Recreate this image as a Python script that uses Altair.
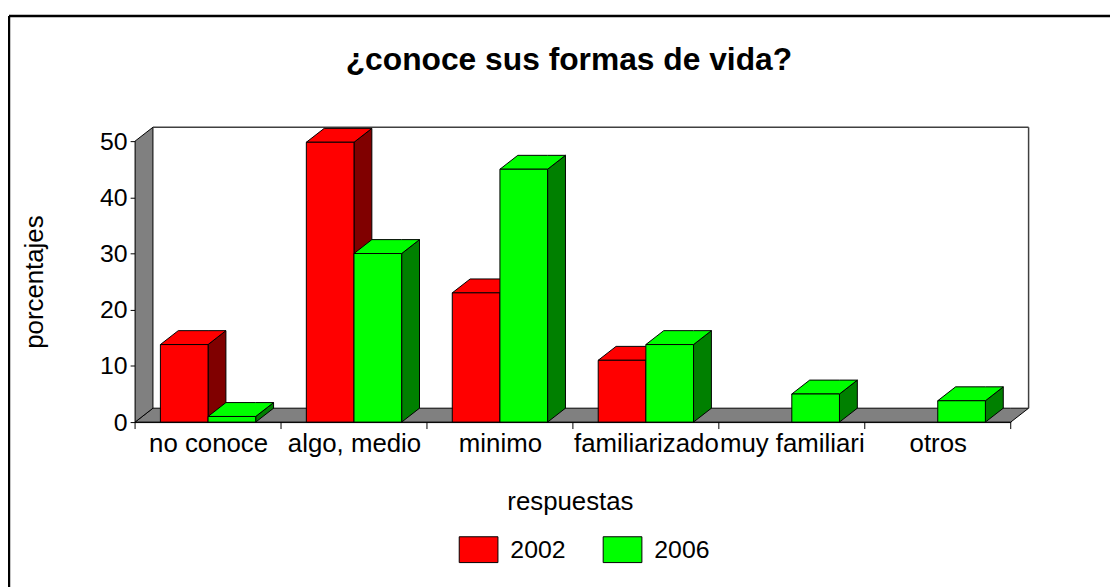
import json
import altair as alt
import pandas as pd

# ---------------- data ----------------
title_text = "¿conoce sus formas de vida?"
categories = ["no conoce", "algo, medio", "minimo", "familiarizado", "muy familiari", "otros"]
series = ["2002", "2006"]
values_2002 = [13.8, 49.8, 23.0, 11.0, 0.0, 0.0]
values_2006 = [1.0, 30.0, 45.0, 13.8, 5.0, 3.8]
y_ticks = [0, 10, 20, 30, 40, 50]
front_colors = ["#ff0000", "#00ff00"]
side_colors = ["#800000", "#008000"]

# ---------------- geometry (layout constants) ----------------
W, H = 882, 283
YMAX = 50
n = len(categories)
px_x = W / n
px_y = H / YMAX
DX = 18 / px_x          # depth offset in x units
DY = 14 / px_y          # depth offset in y units
BW = 48 / px_x          # bar width in x units
GAP = (px_x - 2 * 48) / 2 / px_x
FONT = "Liberation Sans"

fronts, sides, tops = [], [], []
bar_id = 0
for i, cat in enumerate(categories):
    for s, vals in enumerate([values_2002, values_2006]):
        v = vals[i]
        if v <= 0:
            continue
        a = i + GAP + s * BW
        fronts.append({"x": a, "x2": a + BW, "lo": 0.0, "hi": v, "series": series[s], "cat": cat})
        for xx, lo, hi in [(a + BW, 0.0, v), (a + BW + DX, DY, v + DY)]:
            sides.append({"x": xx, "lo": lo, "hi": hi, "id": bar_id, "c": side_colors[s]})
        for xx, lo, hi in [(a, v, v), (a + DX, v, v + DY), (a + BW, v, v + DY), (a + BW + DX, v + DY, v + DY)]:
            tops.append({"x": xx, "lo": lo, "hi": hi, "id": bar_id, "c": front_colors[s]})
        bar_id += 1

floor = pd.DataFrame({"x": [0, DX, n, n + DX], "lo": [0, 0, 0, DY], "hi": [0, DY, DY, DY]})
wall = pd.DataFrame({"x": [0, DX], "lo": [0, DY], "hi": [YMAX, YMAX + DY]})
back_top = pd.DataFrame({"x": [DX], "x2": [n + DX], "lo": [YMAX + DY]})
back_right = pd.DataFrame({"x": [n + DX], "lo": [DY], "hi": [YMAX + DY]})
bounds = pd.DataFrame({"b": list(range(n + 1))})

xscale = alt.Scale(domain=[0, n], nice=False, zero=False)
yscale = alt.Scale(domain=[0, YMAX], nice=False, zero=False)

label_expr = json.dumps(categories) + "[floor(datum.value)]"
xaxis = alt.Axis(
    values=[i + 0.5 for i in range(n)], labelExpr=label_expr, tickSize=0,
    labelFontSize=26, labelFont=FONT, labelColor="black", labelPadding=9,
    labelOverlap=False, labelBound=False, labelFlush=False,
    domainColor="black", domainWidth=1, grid=False,
    title="respuestas", titleFont=FONT, titleFontSize=26, titleFontWeight="normal",
    titleColor="black", titleX=438, titleY=80, titleAlign="center", titleBaseline="middle",
)
yaxis = alt.Axis(
    values=y_ticks, tickSize=5, tickColor="black", tickWidth=1,
    labelFontSize=25, labelFont=FONT, labelColor="black", labelPadding=3,
    domainColor="black", domainWidth=1, grid=False,
    title="porcentajes", titleFont=FONT, titleFontSize=26, titleFontWeight="normal",
    titleColor="black", titleX=-101, titleY=H / 2, titleAngle=270,
    titleAlign="center", titleBaseline="middle",
)


def X(f):
    return alt.X(f, type="quantitative", scale=xscale, axis=xaxis)


def Y(f):
    return alt.Y(f, type="quantitative", scale=yscale, axis=yaxis, stack=None)


floor_l = alt.Chart(floor).mark_area(fill="#808080", stroke="black", strokeWidth=1, opacity=1).encode(
    x=X("x"), y=Y("lo"), y2="hi")
wall_l = alt.Chart(wall).mark_area(fill="#808080", stroke="black", strokeWidth=1, opacity=1).encode(
    x=X("x"), y=Y("lo"), y2="hi")
back_top_l = alt.Chart(back_top).mark_rule(color="#404040", strokeWidth=1.5).encode(
    x=X("x"), x2="x2", y=Y("lo"))
back_right_l = alt.Chart(back_right).mark_rule(color="#404040", strokeWidth=1.5).encode(
    x=X("x"), y=Y("lo"), y2="hi")

sides_l = alt.Chart(pd.DataFrame(sides)).mark_area(stroke="black", strokeWidth=1, opacity=1).encode(
    x=X("x"), y=Y("lo"), y2="hi", fill=alt.Fill("c:N", scale=None), detail="id:N")
tops_l = alt.Chart(pd.DataFrame(tops)).mark_area(stroke="black", strokeWidth=1, opacity=1).encode(
    x=X("x"), y=Y("lo"), y2="hi", fill=alt.Fill("c:N", scale=None), detail="id:N")

fronts_l = alt.Chart(pd.DataFrame(fronts)).mark_rect(stroke="black", strokeWidth=1, opacity=1).encode(
    x=X("x"), x2="x2", y=Y("lo"), y2="hi",
    fill=alt.Fill(
        "series:N",
        scale=alt.Scale(domain=series, range=front_colors),
        legend=alt.Legend(
            orient="none", direction="horizontal", legendX=326, legendY=391, title=None,
            symbolType="M-1,-0.667L1,-0.667L1,0.667L-1,0.667Z", symbolSize=1521,
            symbolStrokeColor="black", symbolStrokeWidth=1, symbolOpacity=1,
            labelFontSize=25, labelFont=FONT, labelColor="black", labelOffset=12,
            columnPadding=35, padding=0,
        ),
    ),
    tooltip=["cat:N", "series:N", "hi:Q"],
)

ticks_l = alt.Chart(bounds).mark_rule(color="black", strokeWidth=1).encode(
    x=X("b"), y=alt.value(H), y2=alt.value(H + 7))

title_l = alt.Chart(pd.DataFrame({"t": [title_text]})).mark_text(
    font=FONT, fontSize=32, fontWeight="bold", color="black", align="center", baseline="alphabetic"
).encode(x=alt.value(437), y=alt.value(-72), text="t:N")

border_left = alt.Chart(pd.DataFrame({"k": [0]})).mark_rule(color="black", strokeWidth=2.5).encode(
    x=alt.value(-127), y=alt.value(-126), y2=alt.value(460))
border_top = alt.Chart(pd.DataFrame({"k": [0]})).mark_rule(color="black", strokeWidth=2.5).encode(
    y=alt.value(-126), x=alt.value(-127), x2=alt.value(990))

chart = alt.layer(
    floor_l, wall_l, back_top_l, back_right_l, sides_l, tops_l, fronts_l, ticks_l,
    title_l, border_left, border_top,
).properties(
    width=W, height=H,
    autosize=alt.AutoSizeParams(type="none"),
    padding={"left": 128, "top": 132, "right": 100, "bottom": 164},
    background="white",
).configure_view(stroke=None)

chart.save("out.html", embed_options={"renderer": "svg", "actions": False})
